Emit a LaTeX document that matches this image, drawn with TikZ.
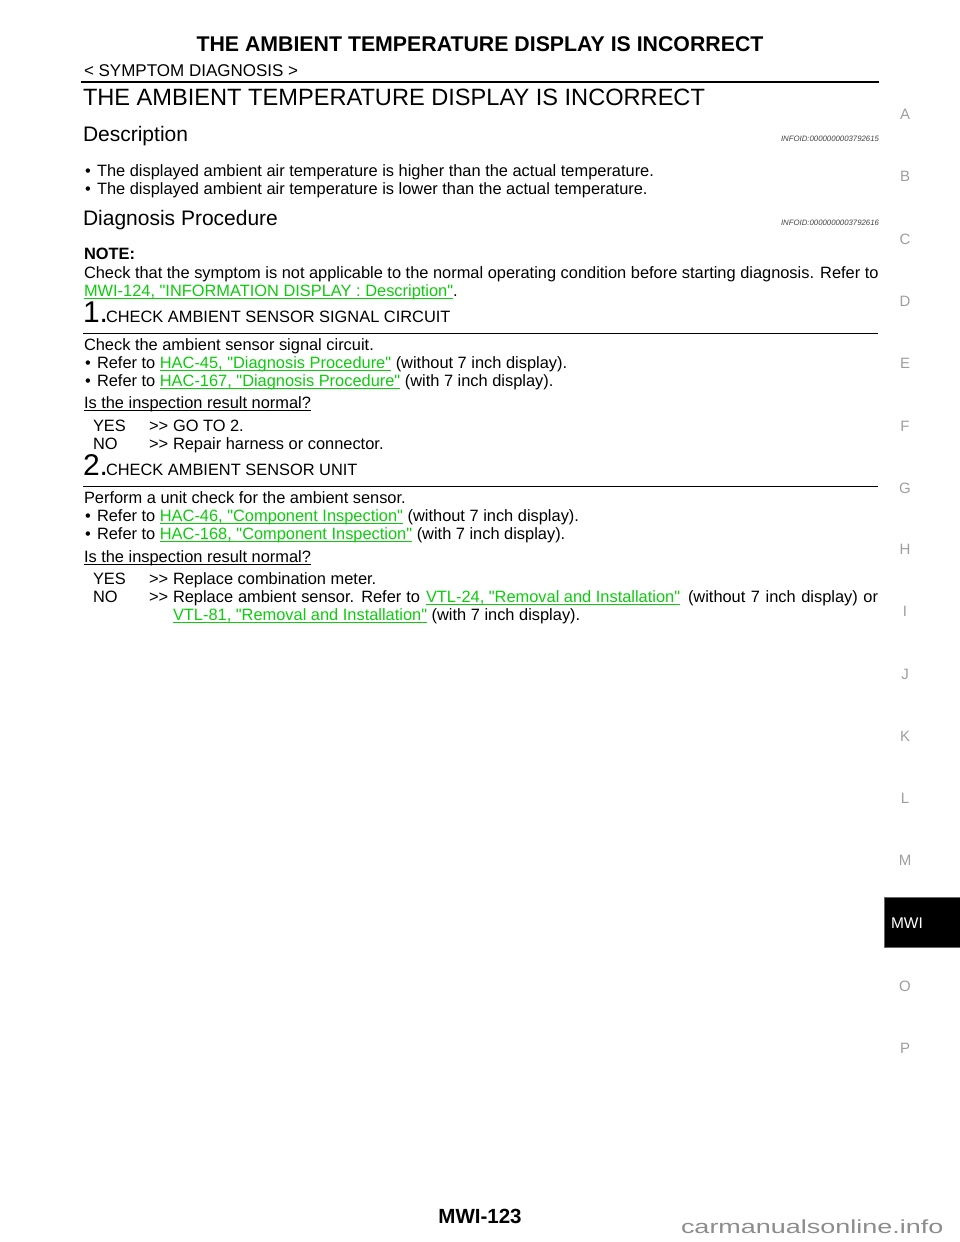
\documentclass[tikz,border=0pt]{standalone}
\usepackage{fontspec}
\defaultfontfeatures[\rmfamily]{}
\setmainfont{Liberation Sans}
\newfontfamily\markfont[FakeStretch=1.42]{Liberation Sans}
\usetikzlibrary{positioning}
\definecolor{linkgreen}{rgb}{0.05,0.8,0.05}
\definecolor{tabgray}{rgb}{0.62,0.62,0.62}
\newcommand{\ultext}[1]{\setbox0=\hbox{#1}\rlap{\raisebox{-2.6pt}{\rule{\wd0}{0.8pt}}}\box0}
\newcommand{\reflink}[1]{\textcolor{linkgreen}{\ultext{#1}}}
\newcommand{\bodysize}{\fontsize{16.4}{18}\selectfont}

\begin{document}
\begin{tikzpicture} [
	x=1pt, y=-1pt,
	every node/.style = {
		inner sep=0pt,
		outer sep=0pt,
		anchor=base west,
		font=\bodysize
	},
	title/.style = {anchor=base, font=\fontsize{21.3}{24}\selectfont\bfseries},
	heading/.style = {font=\fontsize{23.6}{28}\selectfont},
	subhead/.style = {font=\fontsize{21}{24}\selectfont},
	infoid/.style = {anchor=base east, font=\fontsize{7.8}{10}\selectfont\itshape, text=black!75},
	stepnum/.style = {font=\fontsize{30}{32}\selectfont},
	steptext/.style = {font=\bodysize},
	tab/.style = {anchor=center, text=tabgray, font=\fontsize{15}{18}\selectfont}
]

\useasboundingbox (0,0) rectangle (960,1242);

\node (pagetitle) [title] at (480,51) {THE AMBIENT TEMPERATURE DISPLAY IS INCORRECT};
\node (section) [font=\fontsize{17}{18}\selectfont] at (84,76) {< SYMPTOM DIAGNOSIS >};
\node (heading) [heading] at (83,105) {THE AMBIENT TEMPERATURE DISPLAY IS INCORRECT};

\coordinate (topl) at (81,82);
\coordinate (topr) at (879,82);
\draw [line width=2.6pt] (topl) -- (topr);

% description
\node (descr) [subhead] at (83,141) {Description};
\node (descrid) [infoid] at (879,141) {INFOID:0000000003792615};
\node (b1) at (85,176) {•};
\node (b1t) at (97,176) {The displayed ambient air temperature is higher than the actual temperature.};
\node (b2) at (85,194) {•};
\node (b2t) at (97,194) {The displayed ambient air temperature is lower than the actual temperature.};

% procedure
\node (diag) [subhead] at (83,225) {Diagnosis Procedure};
\node (diagid) [infoid] at (879,225) {INFOID:0000000003792616};
\node (note) [font=\bodysize\bfseries] at (84,259) {NOTE:};
\node (notea) at (84,278) {Check that the symptom is not applicable to the normal operating condition before starting diagnosis. Refer to};
\node (noteb) at (84,296) {\reflink{MWI-124, "INFORMATION DISPLAY : Description"}.};

% step 1
\node (one) [stepnum] at (83,322) {1.};
\node (onet) [steptext] at (106,322) {CHECK AMBIENT SENSOR SIGNAL CIRCUIT};
\coordinate (onel) at (83,333);
\coordinate (oner) at (878,333);
\draw [line width=0.8pt] (onel) -- (oner);
\node (c1) at (84,350) {Check the ambient sensor signal circuit.};
\node (c2b) at (85,368) {•};
\node (c2) at (97,368) {Refer to \reflink{HAC-45, "Diagnosis Procedure"} (without 7 inch display).};
\node (c3b) at (85,386) {•};
\node (c3) at (97,386) {Refer to \reflink{HAC-167, "Diagnosis Procedure"} (with 7 inch display).};
\node (q1) at (84,408) {\ultext{Is the inspection result normal?}};
\node (y1) at (93,431) {YES};
\node (y1a) at (149,431) {>>};
\node (y1t) at (173,431) {GO TO 2.};
\node (n1) at (93,449) {NO};
\node (n1a) at (149,449) {>>};
\node (n1t) at (173,449) {Repair harness or connector.};

% step 2
\node (two) [stepnum] at (83,475) {2.};
\node (twot) [steptext] at (106,475) {CHECK AMBIENT SENSOR UNIT};
\coordinate (twol) at (83,486);
\coordinate (twor) at (878,486);
\draw [line width=0.8pt] (twol) -- (twor);
\node (p1) at (84,503) {Perform a unit check for the ambient sensor.};
\node (p2b) at (85,521) {•};
\node (p2) at (97,521) {Refer to \reflink{HAC-46, "Component Inspection"} (without 7 inch display).};
\node (p3b) at (85,539) {•};
\node (p3) at (97,539) {Refer to \reflink{HAC-168, "Component Inspection"} (with 7 inch display).};
\node (q2) at (84,562) {\ultext{Is the inspection result normal?}};
\node (y2) at (93,584) {YES};
\node (y2a) at (149,584) {>>};
\node (y2t) at (173,584) {Replace combination meter.};
\node (n2) at (93,602) {NO};
\node (n2a) at (149,602) {>>};
\node (n2t) at (173,602) {\makebox[247pt][s]{Replace ambient sensor. Refer to}};
\node (n2l) at (426,602) {\reflink{VTL-24, "Removal and Installation"}};
\node (n2e) [anchor=base east] at (878,602) {\makebox[190pt][s]{(without 7 inch display) or}};
\node (n3) at (173,620) {\reflink{VTL-81, "Removal and Installation"} (with 7 inch display).};

% side tabs
\foreach \letter/\ypos in {A/114,B/176,C/239,D/301,E/363,F/426,G/488,H/549,I/611,J/674,K/736,L/798,M/860,O/986,P/1048}
	\node (tab\letter) [tab] at (905,\ypos) {\letter};
\node (tabbox) [fill=black, draw=black!60, line width=0.5pt, anchor=north west, minimum width=77pt, minimum height=50pt] at (884.5,897) {};
\node (tabtext) [text=white, font=\fontsize{15.5}{18}\selectfont] at (891,928) {MWI};

% footer
\node (pageno) [title, font=\fontsize{20.5}{24}\selectfont\bfseries] at (480,1223) {MWI-123};
\node (mark) [text=black!45, font=\fontsize{19}{20}\selectfont\markfont] at (681,1233) {carmanualsonline.info};

\end{tikzpicture}
\end{document}
